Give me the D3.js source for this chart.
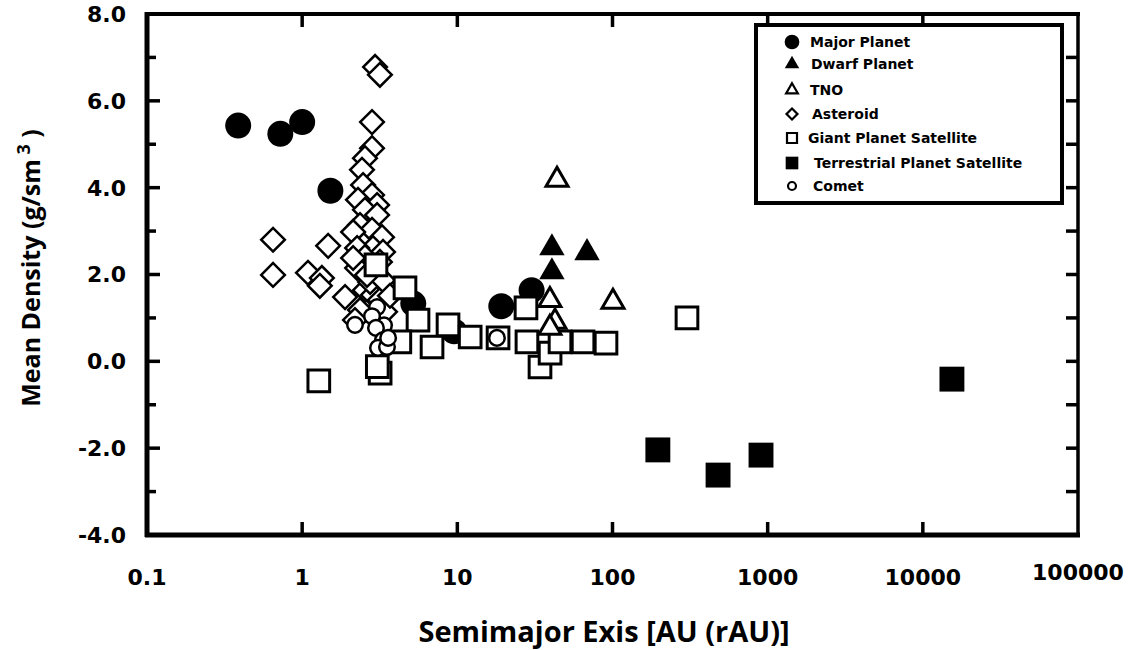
<!DOCTYPE html>
<html>
<head>
<meta charset="utf-8">
<script src="https://cdn.jsdelivr.net/npm/d3@7"></script>
<style>
  body { margin: 0; background: #fff; }
  svg { display: block; }
  .tick-label { font-family: "DejaVu Sans", sans-serif; font-weight: bold; font-size: 22px; fill: #000; }
  .axis-title { font-family: "Open Sans", sans-serif; font-weight: bold; fill: #000; }
  .legend-text { font-family: "DejaVu Sans", sans-serif; font-weight: bold; font-size: 14px; fill: #000; }
</style>
</head>
<body>
<div id="chart"></div>
<script>
// axis ticks
const xTickVals = [0.1, 1, 10, 100, 1000, 10000, 100000];
const xTickLabels = ["0.1", "1", "10", "100", "1000", "10000", "100000"];
const yTickVals = [-4, -2, 0, 2, 4, 6, 8];
const yTickLabels = ["-4.0", "-2.0", "0.0", "2.0", "4.0", "6.0", "8.0"];
const yMinorVals = [-3, -1, 1, 3, 5, 7];

// [semimajor axis AU, mean density]
const majorPlanet = [[0.387, 5.43], [0.723, 5.24], [1.0, 5.51], [1.52, 3.93], [5.2, 1.33], [9.54, 0.69], [19.2, 1.27], [30.1, 1.64]];
const dwarfPlanet = [[40.7, 2.61], [68.5, 2.50], [40.7, 2.06]];
const tno = [[43.9, 4.18], [100.7, 1.37], [39.5, 1.41], [42.6, 0.91], [39.5, 0.77]];
const asteroid = [
  [2.95, 6.78], [3.17, 6.60], [2.82, 5.51], [2.82, 4.91], [2.54, 4.68], [2.43, 4.41], [2.47, 4.06],
  [2.82, 3.83], [2.29, 3.72], [3.04, 3.60], [2.54, 3.49], [3.04, 3.37], [2.36, 3.14], [2.82, 3.03],
  [3.27, 2.86], [2.13, 2.98], [2.86, 2.61], [2.26, 2.61], [3.32, 2.52], [2.54, 2.40], [3.17, 2.29],
  [2.26, 2.15], [0.649, 2.80], [0.649, 1.99], [1.47, 2.66], [1.09, 2.04], [1.34, 1.92], [1.30, 1.74],
  [1.89, 1.48], [2.54, 1.64], [2.86, 1.53], [3.17, 1.41], [2.36, 1.18], [2.19, 0.95], [2.74, 1.83],
  [3.32, 1.87], [3.42, 1.14], [3.68, 1.51], [2.62, 1.99], [2.13, 2.38]
];
const giantSat = [
  [1.28, -0.45], [3.18, -0.27], [3.05, -0.12], [2.99, 2.22], [4.60, 1.69], [5.58, 0.95], [4.26, 0.45],
  [6.87, 0.33], [8.71, 0.84], [12.1, 0.56], [18.3, 0.54], [27.7, 1.23], [28.1, 0.45], [34.1, -0.13],
  [39.6, 0.19], [45.9, 0.45], [64.6, 0.45], [90.8, 0.42], [302, 1.00]
];
const terrestrialSat = [[196, -2.04], [479, -2.62], [906, -2.16], [15400, -0.41]];
const comet = [[2.19, 0.84], [3.04, 1.25], [2.82, 1.04], [3.37, 0.83], [2.99, 0.77], [3.32, 0.49], [3.08, 0.31], [3.52, 0.33], [3.58, 0.54], [18.0, 0.54]];

const legendNames = ["Major Planet", "Dwarf Planet", "TNO", "Asteroid", "Giant Planet Satellite", "Terrestrial Planet Satellite", "Comet"];

const width = 1134, height = 650;
const svg = d3.select("#chart").append("svg")
  .attr("width", width).attr("height", height);

const x = d3.scaleLog().domain([0.1, 100000]).range([147, 1078]);
const y = d3.scaleLinear().domain([-4, 8]).range([535, 14]);

// marker styles
const styles = {
  major: {type: d3.symbolCircle, size: 530, fill: "#000", sw: 0, rot: 0},
  dwarf: {type: d3.symbolTriangle, size: 280, fill: "#000", sw: 0, rot: 0},
  tno: {type: d3.symbolTriangle, size: 210, fill: "#fff", sw: 3, rot: 0},
  asteroid: {type: d3.symbolSquare, size: 280, fill: "#fff", sw: 2.5, rot: 45},
  giant: {type: d3.symbolSquare, size: 470, fill: "#fff", sw: 3, rot: 0},
  terr: {type: d3.symbolSquare, size: 620, fill: "#000", sw: 0, rot: 0},
  comet: {type: d3.symbolCircle, size: 190, fill: "#fff", sw: 2.5, rot: 0}
};

function drawSeries(data, st, cls) {
  svg.append("g").attr("class", cls)
    .selectAll("path")
    .data(data)
    .enter()
    .append("path")
      .attr("d", d3.symbol().type(st.type).size(st.size))
      .attr("transform", d => "translate(" + x(d[0]) + "," + y(d[1]) + ") rotate(" + st.rot + ")")
      .attr("fill", st.fill)
      .attr("stroke", "#000")
      .attr("stroke-width", st.sw);
}

drawSeries(majorPlanet, styles.major, "major");
drawSeries(dwarfPlanet, styles.dwarf, "dwarf");
drawSeries(asteroid, styles.asteroid, "asteroid");
drawSeries(giantSat, styles.giant, "giant");
drawSeries(tno, styles.tno, "tno");
drawSeries(comet, styles.comet, "comet");
drawSeries(terrestrialSat, styles.terr, "terr");

// frame
const x0 = x.range()[0], x1 = x.range()[1], y0 = y.range()[0], y1 = y.range()[1];
svg.append("line").attr("x1", x0).attr("x2", x0).attr("y1", y1 - 2).attr("y2", y0 + 2).attr("stroke", "#000").attr("stroke-width", 5);
svg.append("line").attr("x1", x0 - 2).attr("x2", x1 + 2).attr("y1", y0).attr("y2", y0).attr("stroke", "#000").attr("stroke-width", 5);
svg.append("line").attr("x1", x0 - 2).attr("x2", x1 + 2).attr("y1", y1).attr("y2", y1).attr("stroke", "#000").attr("stroke-width", 4);
svg.append("line").attr("x1", x1).attr("x2", x1).attr("y1", y1).attr("y2", y0).attr("stroke", "#000").attr("stroke-width", 3.5);

// y ticks left (major + minor) and right
svg.selectAll(".ytick").data(yTickVals.slice(1, -1)).enter().append("line")
  .attr("x1", x0).attr("x2", x0 + 13).attr("y1", d => y(d)).attr("y2", d => y(d))
  .attr("stroke", "#000").attr("stroke-width", 3.5);
svg.selectAll(".yminor").data(yMinorVals).enter().append("line")
  .attr("x1", x0).attr("x2", x0 + 9).attr("y1", d => y(d)).attr("y2", d => y(d))
  .attr("stroke", "#000").attr("stroke-width", 3.5);
svg.selectAll(".yright").data(yMinorVals.concat(yTickVals.slice(1, -1))).enter().append("line")
  .attr("x1", x1).attr("x2", x1 - 12).attr("y1", d => y(d)).attr("y2", d => y(d))
  .attr("stroke", "#000").attr("stroke-width", 3.5);

svg.selectAll(".ylab").data(yTickVals).enter().append("text")
  .attr("class", "tick-label")
  .attr("x", 126).attr("y", d => y(d)).attr("dy", "0.36em")
  .attr("text-anchor", "end")
  .text((d, i) => yTickLabels[i]);

// x ticks bottom and top
const innerX = xTickVals.slice(1, -1);
svg.selectAll(".xb").data(innerX).enter().append("line")
  .attr("x1", d => x(d)).attr("x2", d => x(d)).attr("y1", y0).attr("y2", y0 - 13)
  .attr("stroke", "#000").attr("stroke-width", 3.5);
svg.selectAll(".xt").data(innerX).enter().append("line")
  .attr("x1", d => x(d)).attr("x2", d => x(d)).attr("y1", y1).attr("y2", y1 + 13)
  .attr("stroke", "#000").attr("stroke-width", 3.5);

svg.selectAll(".xlab").data(xTickVals).enter().append("text")
  .attr("class", "tick-label")
  .attr("x", d => x(d)).attr("y", (d, i) => i === xTickVals.length - 1 ? 580 : 585)
  .attr("text-anchor", "middle")
  .text((d, i) => xTickLabels[i]);

// axis titles
svg.append("text").attr("class", "axis-title")
  .attr("x", 604).attr("y", 642).attr("text-anchor", "middle")
  .style("font-size", "29px")
  .text("Semimajor Exis [AU (rAU)]");

const yt = svg.append("text").attr("class", "axis-title")
  .attr("transform", "translate(40,268) rotate(-90)")
  .attr("text-anchor", "middle")
  .style("font-size", "25px");
yt.append("tspan").text("Mean Density (g/sm");
yt.append("tspan").attr("dy", -10).style("font-size", "18px").text(" 3");
yt.append("tspan").attr("dy", 10).text(" )");

// legend
const lg = svg.append("g");
lg.append("rect").attr("x", 756).attr("y", 25).attr("width", 306).attr("height", 178)
  .attr("fill", "#fff").attr("stroke", "#000").attr("stroke-width", 4);
const legendStyles = [
  {st: styles.major, size: 170},
  {st: styles.dwarf, size: 90},
  {st: styles.tno, size: 60},
  {st: styles.asteroid, size: 60},
  {st: styles.giant, size: 100},
  {st: styles.terr, size: 160},
  {st: styles.comet, size: 50}
];
const legendY = [42, 64, 90, 114, 138, 163, 186];
const legendTx = [810, 811, 810, 812, 808, 814, 813];
legendNames.forEach((name, i) => {
  const ls = legendStyles[i];
  lg.append("path")
    .attr("d", d3.symbol().type(ls.st.type).size(ls.size))
    .attr("transform", "translate(792," + legendY[i] + ") rotate(" + ls.st.rot + ")")
    .attr("fill", ls.st.fill).attr("stroke", "#000").attr("stroke-width", ls.st.sw ? 2.2 : 0);
  lg.append("text").attr("class", "legend-text")
    .attr("x", legendTx[i]).attr("y", legendY[i]).attr("dy", "0.36em")
    .text(name);
});
</script>
</body>
</html>
